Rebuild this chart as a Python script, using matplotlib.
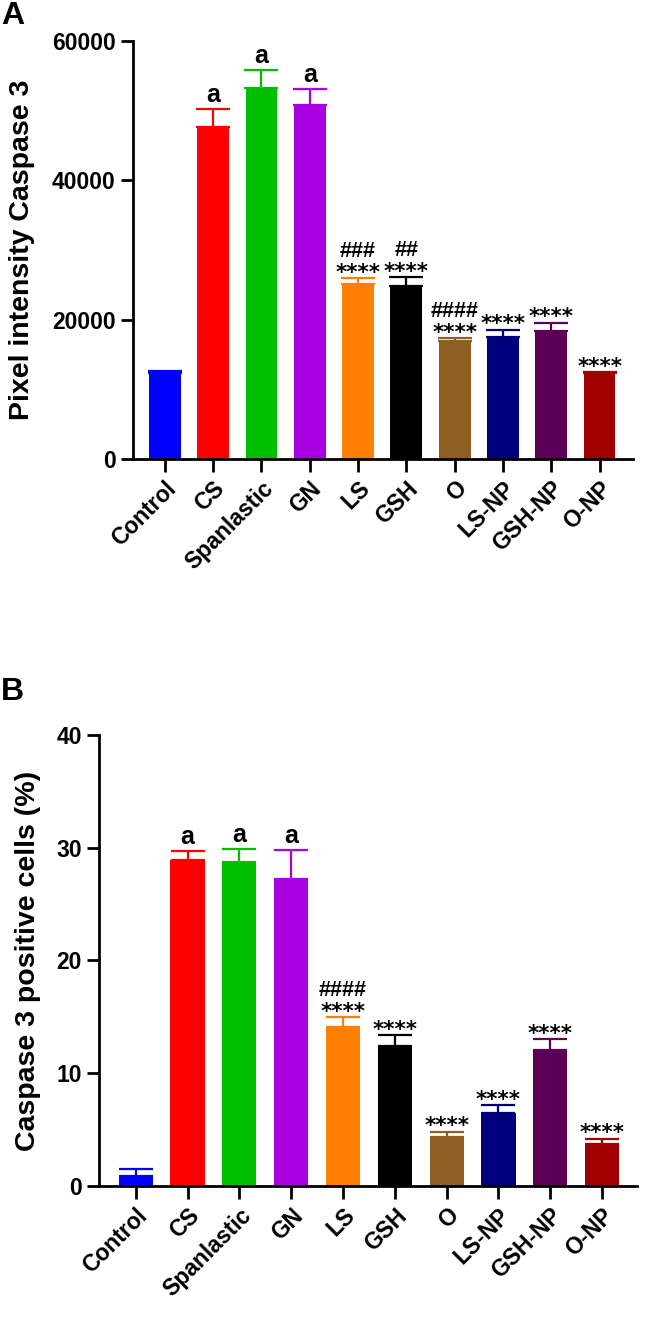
import numpy as np
import matplotlib.pyplot as plt

plt.rcParams['font.family'] = ['Liberation Sans', 'DejaVu Sans']
plt.rcParams['font.weight'] = 'bold'

# -------------------------------
# Data
# -------------------------------
groups = ['Control', 'CS', 'Spanlastic', 'GN', 'LS', 'GSH', 'O', 'LS-NP', 'GSH-NP', 'O-NP']
colors = ['#0000FF', '#FF0000', '#00BE00', '#A800E0', '#FF8000',
          '#000000', '#8E5E22', '#00007F', '#5C0055', '#A00000']

# Panel A - pixel intensity
pixel_mean = [12300, 47600, 53300, 50800, 25100, 24800, 17000, 17500, 18400, 12300]
pixel_err = [300, 2700, 2600, 2250, 900, 1300, 350, 1050, 1150, 200]
pixel_marks = ['', 'a', 'a', 'a', '****', '****', '****', '****', '****', '****']
pixel_hash = ['', '', '', '', '###', '##', '####', '', '', '']

# Panel B - positive cells (%)
positive_mean = [0.9, 28.9, 28.7, 27.2, 14.1, 12.4, 4.3, 6.45, 12.1, 3.7]
positive_err = [0.6, 0.8, 1.2, 2.6, 0.9, 1.0, 0.53, 0.7, 0.9, 0.5]
positive_marks = ['', 'a', 'a', 'a', '****', '****', '****', '****', '****', '****']
positive_hash = ['', '', '', '', '####', '', '', '', '', '']


# -------------------------------
# Helper to draw one panel
# -------------------------------
def draw_panel(ax, mean, err, marks, hashes, yticks, ylabel, label_x, xlim):
    x = np.arange(len(groups))
    ax.bar(x, mean, width=0.66, color=colors, zorder=2)
    for i in range(len(groups)):
        ax.errorbar(x[i], mean[i], yerr=[[0], [err[i]]], fmt='none',
                    ecolor=colors[i], elinewidth=1.6, capsize=12, capthick=1.6, zorder=1)
        top = mean[i] + err[i]
        if marks[i] == 'a':
            ax.annotate('a', (x[i], top), xytext=(0, 5), textcoords='offset points',
                        ha='center', va='baseline', fontsize=18, fontweight='bold')
        elif marks[i]:
            ax.annotate(marks[i], (x[i], top), xytext=(0, -0.5), textcoords='offset points',
                        ha='center', va='baseline', fontsize=15.5, fontweight='bold',
                        family='DejaVu Sans')
        if hashes[i]:
            ax.annotate(hashes[i], (x[i], top), xytext=(0, 15), textcoords='offset points',
                        ha='center', va='baseline', fontsize=15.5, fontweight='bold')

    ax.set_xlim(*xlim)
    ax.set_ylim(yticks[0], yticks[-1])
    ax.set_yticks(yticks)
    ax.set_xticks(x)
    ax.set_xticklabels(groups, rotation=45, ha='right', rotation_mode='anchor', fontsize=16.5)
    ax.tick_params(axis='y', labelsize=16.5, width=2, length=9)
    ax.tick_params(axis='x', width=2, length=9, pad=4)
    ax.spines['top'].set_visible(False)
    ax.spines['right'].set_visible(False)
    ax.spines['left'].set_linewidth(2)
    ax.spines['bottom'].set_linewidth(2)
    ax.set_ylabel(ylabel, fontsize=20.5, fontweight='bold')
    ax.yaxis.set_label_coords(label_x, 0.5)


# -------------------------------
# Figure
# -------------------------------
fig = plt.figure(figsize=(6.45, 13.22), dpi=100)

ax1 = fig.add_axes([0.2062, 0.6528, 0.775, 0.3162])
draw_panel(ax1, pixel_mean, pixel_err, pixel_marks, pixel_hash,
           [0, 20000, 40000, 60000], 'Pixel intensity Caspase 3', -0.197, (-0.66, 9.69))

ax2 = fig.add_axes([0.1535, 0.1029, 0.8345, 0.3411])
draw_panel(ax2, positive_mean, positive_err, positive_marks, positive_hash,
           [0, 10, 20, 30, 40], 'Caspase 3 positive cells (%)', -0.108, (-0.71, 9.68))

fig.text(0.002, 0.999, 'A', fontsize=23, fontweight='bold', va='top', ha='left')
fig.text(0.002, 0.488, 'B', fontsize=23, fontweight='bold', va='top', ha='left')

plt.savefig('out.png', dpi=100)
